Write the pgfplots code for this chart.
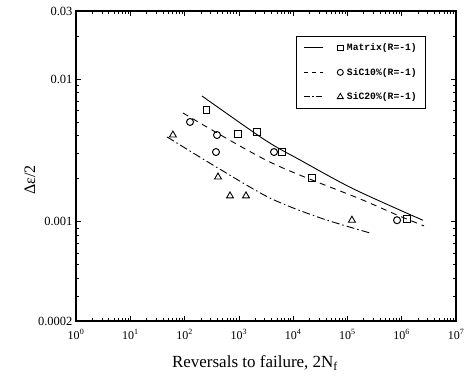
\documentclass[border=0pt]{standalone}
\usepackage{pgfplots}
\pgfplotsset{compat=1.18}
\usepackage{fontspec}
\setmainfont{Liberation Serif}
\newfontfamily\monofont{Liberation Mono}
\begin{document}
\begin{tikzpicture}
\begin{axis}[
  scale only axis, width=380pt, height=310pt,
  xmode=log, ymode=log,
  xmin=1, xmax=1e7, ymin=0.0002, ymax=0.03,
  xtick={1,10,100,1000,1e4,1e5,1e6,1e7},
  xticklabels={10\textsuperscript{0},10\textsuperscript{1},10\textsuperscript{2},10\textsuperscript{3},10\textsuperscript{4},10\textsuperscript{5},10\textsuperscript{6},10\textsuperscript{7}},
  minor xtick={2,3,4,5,6,7,8,9,20,30,40,50,60,70,80,90,200,300,400,500,600,700,800,900,2000,3000,4000,5000,6000,7000,8000,9000,2e4,3e4,4e4,5e4,6e4,7e4,8e4,9e4,2e5,3e5,4e5,5e5,6e5,7e5,8e5,9e5,2e6,3e6,4e6,5e6,6e6,7e6,8e6,9e6},
  ytick={0.0002,0.001,0.01,0.03},
  yticklabels={0.0002,0.001,0.01,0.03},
  minor ytick={0.0003,0.0004,0.0005,0.0006,0.0007,0.0008,0.0009,0.002,0.003,0.004,0.005,0.006,0.007,0.008,0.009,0.02},
  tick align=inside,
  major tick length=5pt, minor tick length=3pt,
  tick style={black, line width=0.6pt},
  axis line style={line width=1.4pt},
  yticklabel style={font=\fontsize{12.5}{14}\selectfont},
  xticklabel style={font=\fontsize{12}{14}\selectfont, yshift=-5pt},
  xlabel={Reversals to failure, 2N\textsubscript{f}},
  ylabel={Δε/2},
  xlabel style={font=\fontsize{17}{19}\selectfont, at={(axis description cs:0.471,-0.135)}, anchor=center},
  ylabel style={font=\fontsize{16}{19}\selectfont, at={(axis description cs:-0.121,0.455)}, anchor=center},
  legend style={at={(axis description cs:0.58,0.919)}, anchor=north west, draw=black, line width=0.9pt,
    font=\monofont\bfseries\fontsize{9.7}{10}\selectfont, row sep=12pt, inner xsep=7pt, inner ysep=5pt},
  legend cell align=left,
]
% curves
\addplot[black, line width=0.9pt, smooth, forget plot] coordinates {
 (209,0.0076) (3030,0.00373) (13400,0.0027) (1.11e5,0.00174) (9.3e5,0.0012) (2.46e6,0.00102)};
\addplot[black, line width=0.9pt, smooth, dash pattern=on 6pt off 5pt, forget plot] coordinates {
 (93.5,0.00577) (3740,0.00261) (1.7e5,0.00144) (8.18e5,0.00111) (2.57e6,0.00093)};
\addplot[black, line width=0.9pt, smooth, dash pattern=on 8pt off 3pt on 1.5pt off 3pt, forget plot] coordinates {
 (47.5,0.00392) (413,0.00237) (3740,0.00146) (31200,0.00106) (2.6e5,0.00083)};
% data
\addplot[only marks, mark=square, mark size=3.2pt, black, line width=1pt, forget plot] coordinates {
 (255,0.00606) (964,0.00411) (2160,0.00425) (6230,0.00307) (22200,0.00202) (1.25e6,0.00104)};
\addplot[only marks, mark=o, mark size=3.5pt, black, line width=1pt, forget plot] coordinates {
 (126,0.00499) (396,0.00404) (379,0.00307) (4440,0.00307) (8.2e5,0.00102)};
\addplot[only marks, mark=triangle, mark size=4pt, black, line width=0.9pt, forget plot] coordinates {
 (61,0.00404) (413,0.00205) (687,0.00151) (1353,0.00151) (1.21e5,0.00102)};
% legend
\addlegendimage{legend image code/.code={
  \draw[black, line width=0.9pt, solid] (0pt,0pt) -- (19pt,0pt);
  \draw[black, line width=0.9pt, solid, mark=square, mark size=2.8pt] plot coordinates {(36pt,0pt)};}}
\addlegendentry{\,Matrix(R=-1)}
\addlegendimage{legend image code/.code={
  \draw[black, line width=0.9pt, dash pattern=on 4pt off 4pt] (0pt,0pt) -- (19pt,0pt);
  \draw[black, line width=0.9pt, solid, mark=o, mark size=3pt] plot coordinates {(36pt,0pt)};}}
\addlegendentry{\,SiC10\%(R=-1)}
\addlegendimage{legend image code/.code={
  \draw[black, line width=0.9pt, dash pattern=on 6pt off 2pt on 1.5pt off 2pt] (0pt,0pt) -- (19pt,0pt);
  \draw[black, line width=0.8pt, solid, mark=triangle, mark size=3.5pt] plot coordinates {(36pt,0pt)};}}
\addlegendentry{\,SiC20\%(R=-1)}
\end{axis}
\pgfresetboundingbox
\path[use as bounding box] (-76pt,-64pt) rectangle (394pt,321pt);
\end{tikzpicture}
\end{document}
